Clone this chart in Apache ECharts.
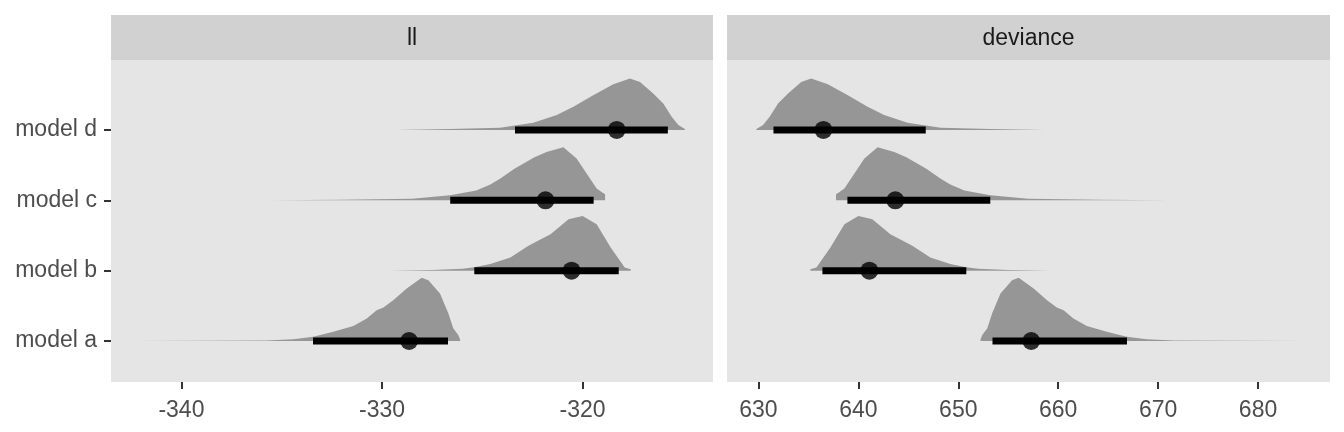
<!DOCTYPE html>
<html>
<head>
<meta charset="utf-8">
<script src="https://cdn.jsdelivr.net/npm/echarts@6/dist/echarts.min.js"></script>
<style>
html,body{margin:0;padding:0;background:#ffffff;}
#chart{width:1344px;height:432px;}
</style>
</head>
<body>
<div id="chart"></div>
<script>
// ---- data ----
const models = ['model a', 'model b', 'model c', 'model d'];
const panels = ['ll', 'deviance'];
const llTicks = [-340, -330, -320];
const devTicks = [630, 640, 650, 660, 670, 680];

// point (median) and interval ends
const llMedian = [-328.65, -320.55, -321.85, -318.3];
const llLower  = [-333.44, -325.4, -326.6, -323.37];
const llUpper  = [-326.71, -318.2, -319.45, -315.75];
const devMedian = [657.3, 641.1, 643.7, 636.5];
const devLower  = [653.42, 636.4, 638.9, 631.5];
const devUpper  = [666.88, 650.8, 653.2, 646.74];

// density outlines (x, relative height) per model
const llDensA_x = [-342.23,-339.07,-335.75,-334.42,-333.43,-332.43,-331.43,-330.76,-330.27,-329.93,-329.44,-328.77,-328.02,-327.69,-327.11,-326.69,-326.45,-326.2,-326.11];
const llDensA_h = [0,0.3,0.6,1.7,4.3,9.3,15,22.7,31,33.7,41,52.7,63.7,61,47.7,27.7,12.7,6,1.7];
const llDensB_x = [-329.6,-327.5,-326.0,-325.4,-324.6,-324.1,-323.6,-322.7,-321.6,-320.7,-320.0,-319.3,-318.6,-317.9,-317.6];
const llDensB_h = [0,0.7,2,3.5,6.7,10,13.3,25,36.7,51.7,55,46.7,23.3,3.3,1.5];
const llDensC_x = [-335.5,-332.1,-328.5,-326.6,-325.3,-324.6,-324.1,-323.4,-322.4,-321.8,-320.96,-320.3,-319.7,-319.3,-319.0,-318.88];
const llDensC_h = [0,0.6,1.7,5,10,16,22,31.7,43.3,48.5,53.3,42,24,12,7.5,6];
const llDensD_x = [-329.3,-326.61,-324.12,-322.46,-321.29,-320.46,-319.47,-318.47,-317.64,-317.14,-316.48,-315.98,-315.56,-315.23,-314.9];
const llDensD_h = [0,1,2.3,7.3,15,23.3,35,46,51.7,48.3,36.7,26.7,13.3,5,1];

const devDensA_x = [684.46,678.14,671.5,668.84,666.86,664.86,662.86,661.52,660.54,659.86,658.88,657.54,656.04,655.38,654.22,653.38,652.9,652.4,652.22];
const devDensA_h = [0,0.3,0.6,1.7,4.3,9.3,15,22.7,31,33.7,41,52.7,63.7,61,47.7,27.7,12.7,6,1.7];
const devDensB_x = [659.2,655.0,652.0,650.8,649.2,648.2,647.2,645.4,643.2,641.4,640.0,638.6,637.2,635.8,635.2];
const devDensB_h = [0,0.7,2,3.5,6.7,10,13.3,25,36.7,51.7,55,46.7,23.3,3.3,1.5];
const devDensC_x = [671.0,664.2,657.0,653.2,650.6,649.2,648.2,646.8,644.8,643.6,641.92,640.6,639.4,638.6,638.0,637.76];
const devDensC_h = [0,0.6,1.7,5,10,16,22,31.7,43.3,48.5,53.3,42,24,12,7.5,6];
const devDensD_x = [658.6,653.22,648.24,644.92,642.58,640.92,638.94,636.94,635.28,634.28,632.96,631.96,631.12,630.46,629.8];
const devDensD_h = [0,1,2.3,7.3,15,23.3,35,46,51.7,48.3,36.7,26.7,13.3,5,1];

// ---- build ----
const llDens = [[llDensA_x,llDensA_h],[llDensB_x,llDensB_h],[llDensC_x,llDensC_h],[llDensD_x,llDensD_h]];
const devDens = [[devDensA_x,devDensA_h],[devDensB_x,devDensB_h],[devDensC_x,devDensC_h],[devDensD_x,devDensD_h]];
const hMaxAll = Math.max.apply(null, [].concat(llDensA_h,llDensB_h,llDensC_h,llDensD_h));
const SLAB_SCALE = 0.9;

const FONT = '"Liberation Sans", Arial, Helvetica, sans-serif';
const SLAB = '#969696';
const FS = 23;

function slabRenderer(dens) {
  return function (params, api) {
    const i = params.dataIndex;
    const base = api.value(1);
    const xs = dens[i][0], hs = dens[i][1];
    const pts = [];
    pts.push(api.coord([xs[0], base]));
    for (let k = 0; k < xs.length; k++) {
      pts.push(api.coord([xs[k], base + hs[k] / hMaxAll * SLAB_SCALE]));
    }
    pts.push(api.coord([xs[xs.length - 1], base]));
    return {type: 'polygon', shape: {points: pts}, style: {fill: SLAB, stroke: null}};
  };
}
function intervalRenderer(params, api) {
  const p1 = api.coord([api.value(0), api.value(2)]);
  const p2 = api.coord([api.value(1), api.value(2)]);
  return {type: 'line', shape: {x1: p1[0], y1: p1[1], x2: p2[0], y2: p2[1]},
          style: {stroke: '#000000', lineWidth: 7, lineCap: 'butt'}};
}

const gridTop = 60, gridH = 322;
const grids = [
  {left: 111, top: gridTop, width: 602, height: gridH},
  {left: 727, top: gridTop, width: 603, height: gridH}
];
const xRanges = [[-343.51, -313.5], [626.85, 687.2]];
const xTicks = [llTicks, devTicks];

const option = {
  backgroundColor: '#ffffff',
  animation: false,
  grid: grids.map(g => Object.assign({show: true, backgroundColor: '#E5E5E5', borderWidth: 0}, g)),
  xAxis: [0, 1].map(k => ({
    type: 'value', gridIndex: k, min: xRanges[k][0], max: xRanges[k][1],
    axisLine: {show: false},
    splitLine: {show: false},
    axisTick: {show: true, customValues: xTicks[k], length: 7, lineStyle: {color: '#333333', width: 2}},
    axisLabel: {show: true, customValues: xTicks[k], margin: 17, fontSize: FS, color: '#4D4D4D', fontFamily: FONT}
  })),
  yAxis: [0, 1].map(k => ({
    type: 'value', gridIndex: k, min: 0.417, max: 4.995,
    axisLine: {show: false},
    splitLine: {show: false},
    axisTick: {show: k === 0, customValues: [1, 2, 3, 4], length: 7, lineStyle: {color: '#333333', width: 2}},
    axisLabel: {show: k === 0, customValues: [1, 2, 3, 4], margin: 14, fontSize: FS, color: '#4D4D4D', fontFamily: FONT,
                formatter: v => models[Math.round(v) - 1]}
  })),
  graphic: [0, 1].map(k => ({
    type: 'group',
    children: [
      {type: 'rect', shape: {x: grids[k].left, y: 15, width: grids[k].width, height: 45}, style: {fill: '#D1D1D1'}},
      {type: 'text', x: grids[k].left + grids[k].width / 2, y: 38.5,
       style: {text: panels[k], fill: '#1A1A1A', font: FS + 'px ' + FONT, textAlign: 'center', textVerticalAlign: 'middle'}}
    ]
  })),
  series: [
    {type: 'custom', xAxisIndex: 0, yAxisIndex: 0, renderItem: slabRenderer(llDens),
     data: models.map((m, i) => [llMedian[i], i + 1]), z: 1, silent: true},
    {type: 'custom', xAxisIndex: 1, yAxisIndex: 1, renderItem: slabRenderer(devDens),
     data: models.map((m, i) => [devMedian[i], i + 1]), z: 1, silent: true},
    {type: 'custom', xAxisIndex: 0, yAxisIndex: 0, renderItem: intervalRenderer,
     data: models.map((m, i) => [llLower[i], llUpper[i], i + 1]), z: 2, silent: true},
    {type: 'custom', xAxisIndex: 1, yAxisIndex: 1, renderItem: intervalRenderer,
     data: models.map((m, i) => [devLower[i], devUpper[i], i + 1]), z: 2, silent: true},
    {type: 'scatter', xAxisIndex: 0, yAxisIndex: 0, symbol: 'circle', symbolSize: 18,
     itemStyle: {color: '#000000'}, data: models.map((m, i) => [llMedian[i], i + 1]), z: 3, silent: true},
    {type: 'scatter', xAxisIndex: 1, yAxisIndex: 1, symbol: 'circle', symbolSize: 18,
     itemStyle: {color: '#000000'}, data: models.map((m, i) => [devMedian[i], i + 1]), z: 3, silent: true}
  ]
};

const chart = echarts.init(document.getElementById('chart'), null, {renderer: 'canvas'});
chart.setOption(option);
</script>
</body>
</html>
